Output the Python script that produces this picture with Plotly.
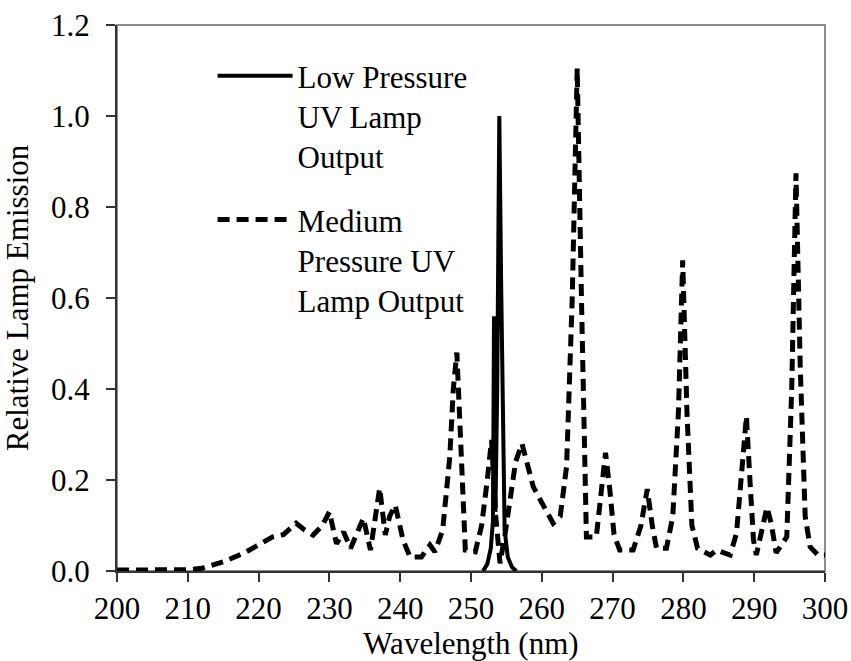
import plotly.graph_objects as go

# Medium pressure UV lamp output (dashed)
med_wl = [200, 205, 210, 212, 215, 218, 220, 222, 223.5, 225.3, 226.5, 227.7, 229, 230, 231, 232,
          233, 234.3, 234.8, 235.8, 236.5, 237.1, 237.9, 238.5, 239.3, 240.4, 241.4, 243, 244.2,
          244.9, 246, 247, 247.5, 248, 248.5, 249.2, 250.6, 251.5, 252.3, 252.9, 253.5, 254.1,
          254.8, 255.5, 256.3, 257.2, 258.8, 260, 261.6, 262.6, 263.5, 264.3, 265, 265.6, 266.3,
          267.7, 268.3, 269, 269.6, 270.2, 271, 272.9, 274, 274.9, 275.6, 276.2, 277.6, 278.5,
          279.3, 279.9, 280.5, 281.2, 282, 283.8, 284.7, 286.6, 287.5, 288.2, 288.9, 289.4, 289.9,
          290.3, 291.2, 291.8, 292.4, 293.1, 294.6, 295.3, 295.9, 296.5, 297.2, 297.9, 299, 300]
med_em = [0.002, 0.002, 0.003, 0.006, 0.02, 0.04, 0.056, 0.075, 0.08, 0.105, 0.09, 0.079, 0.1, 0.13,
          0.06, 0.086, 0.05, 0.1, 0.116, 0.046, 0.12, 0.182, 0.079, 0.12, 0.145, 0.068, 0.031,
          0.031, 0.057, 0.042, 0.09, 0.25, 0.4, 0.48, 0.3, 0.046, 0.042, 0.1, 0.2, 0.288, 0.12,
          0.017, 0.08, 0.16, 0.24, 0.28, 0.185, 0.15, 0.105, 0.12, 0.23, 0.6, 1.105, 0.6, 0.075,
          0.075, 0.15, 0.26, 0.18, 0.08, 0.046, 0.046, 0.1, 0.18, 0.1, 0.05, 0.05, 0.12, 0.35,
          0.683, 0.35, 0.1, 0.05, 0.035, 0.046, 0.035, 0.083, 0.2, 0.34, 0.2, 0.068, 0.035, 0.1,
          0.14, 0.105, 0.04, 0.075, 0.4, 0.874, 0.45, 0.12, 0.053, 0.035, 0.035]

# Low pressure UV lamp output (solid)
low_wl = [251.7, 252.3, 252.8, 253.1, 253.25, 253.45, 253.7, 254.0, 254.25, 254.6, 254.75, 255.2, 255.8, 256.4]
low_em = [0.0, 0.015, 0.05, 0.11, 0.56, 0.13, 0.4, 1.0, 0.64, 0.33, 0.09, 0.03, 0.008, 0.0]

x_ticks = [200, 210, 220, 230, 240, 250, 260, 270, 280, 290, 300]
y_ticks = [0.0, 0.2, 0.4, 0.6, 0.8, 1.0, 1.2]

FONT = "'Liberation Serif', Tinos, 'Times New Roman', Times, 'DejaVu Serif', serif"
FS = 31

fig = go.Figure()
fig.add_trace(go.Scatter(x=low_wl, y=low_em, mode="lines",
                         name="Low Pressure<br>UV Lamp<br>Output",
                         line=dict(color="black", width=4), legendgroup="a"))
fig.add_trace(go.Scatter(x=med_wl, y=med_em, mode="lines",
                         name="Medium<br>Pressure UV<br>Lamp Output",
                         line=dict(color="black", width=5, dash="12px,7px"), legendgroup="b"))

# plot-area border (gray, top/right)
fig.add_shape(type="rect", xref="paper", yref="paper", x0=0, y0=0, x1=1, y1=1,
              line=dict(color="#8c8c8c", width=2), layer="below")

fig.update_layout(
    width=851, height=661,
    margin=dict(l=117, r=26, t=25, b=90),
    paper_bgcolor="white", plot_bgcolor="white",
    font=dict(family=FONT, size=FS, color="black"),
    showlegend=True,
    legend=dict(x=0.135, y=0.956, xanchor="left", yanchor="top",
                bgcolor="rgba(0,0,0,0)", font=dict(size=FS, family=FONT),
                itemwidth=75, valign="top", tracegroupgap=20, traceorder="grouped"),
    xaxis=dict(range=[200, 300], tickvals=x_ticks, ticks="outside", ticklen=9,
               tickwidth=1.5, tickcolor="#333", showline=True, linecolor="#333", linewidth=2,
               showgrid=False, zeroline=False, automargin=False,
               title=dict(text="Wavelength (nm)", font=dict(size=FS, family=FONT), standoff=4),
               tickfont=dict(size=FS, family=FONT)),
    yaxis=dict(range=[0, 1.2], tickvals=y_ticks, tickformat=".1f", ticks="outside", ticklen=9,
               tickwidth=1.5, tickcolor="#333", showline=True, linecolor="#333", linewidth=2,
               showgrid=False, zeroline=False, automargin=False, ticklabelstandoff=10,
               title=dict(text="Relative Lamp Emission", font=dict(size=FS, family=FONT), standoff=14),
               tickfont=dict(size=FS, family=FONT)),
)

fig.write_html("out.html")
